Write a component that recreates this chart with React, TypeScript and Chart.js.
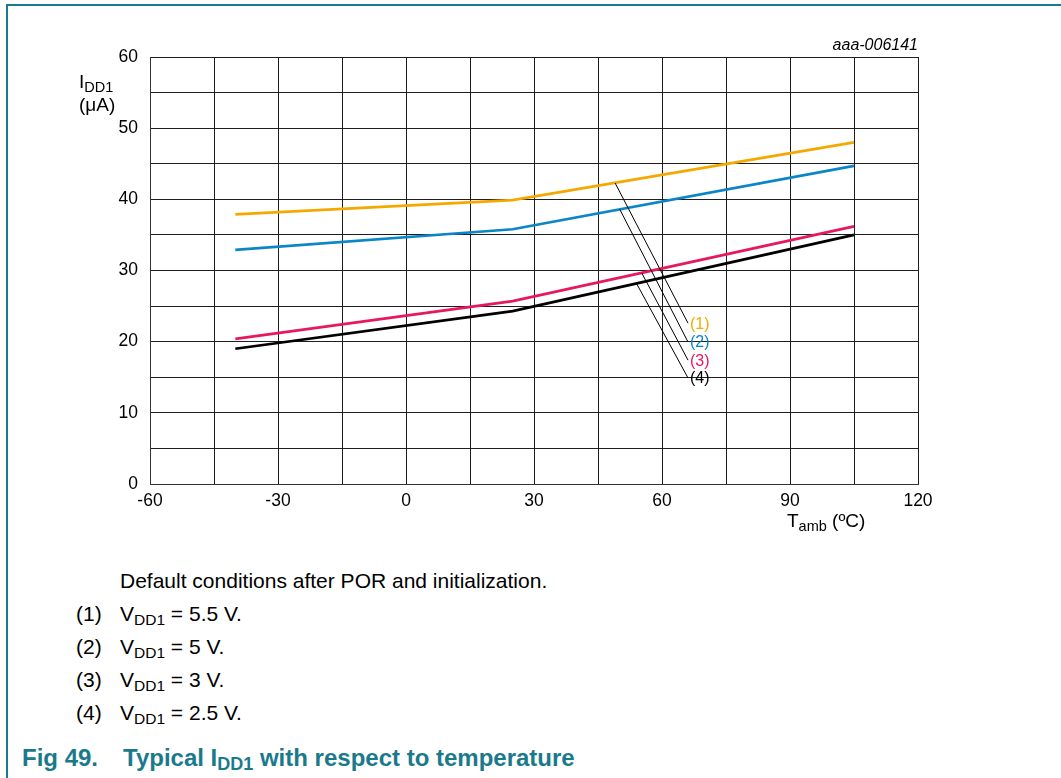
import React, { useEffect, useRef } from "react";
import { Chart, registerables } from "chart.js";
Chart.register(...registerables);

const FONT = "'Liberation Sans', Arial, Helvetica, sans-serif";

// Data
const temps = [-40, 25, 105];
const iddVdd55 = [37.9, 39.9, 48.0];
const iddVdd5 = [32.9, 35.8, 44.7];
const iddVdd3 = [20.4, 25.7, 36.2];
const iddVdd25 = [19.0, 24.3, 35.0];

const seriesLabels = ["(1)", "(2)", "(3)", "(4)"];
const seriesColors = ["#f5a900", "#0a86c8", "#e6195d", "#000000"];

// Leader lines from each curve to its label (data coordinates)
const leaderStartX = [49.0, 50.1, 55.3, 54.1];
const leaderStartY = [42.3, 38.6, 29.6, 28.1];
const leaderEndX = 66.1;
const leaderEndY = [22.6, 19.95, 17.4, 14.9];

const xMin = -60;
const xMax = 120;
const yMin = 0;
const yMax = 60;

const captionLines = ["V_DD1 = 5.5 V.", "V_DD1 = 5 V.", "V_DD1 = 3 V.", "V_DD1 = 2.5 V."];

function drawSub(ctx: CanvasRenderingContext2D, main: string, sub: string, rest: string, x: number, y: number, fs: number, sfs: number, off: number) {
  ctx.font = `${fs}px ${FONT}`;
  ctx.fillText(main, x, y);
  let cx = x + ctx.measureText(main).width;
  ctx.font = `${sfs}px ${FONT}`;
  ctx.fillText(sub, cx, y + off);
  cx += ctx.measureText(sub).width;
  ctx.font = `${fs}px ${FONT}`;
  ctx.fillText(rest, cx, y);
}

const annotPlugin = {
  id: "annot",
  afterDraw(chart: any) {
    const { ctx, scales, chartArea } = chart;
    const xs = scales.x;
    const ys = scales.y;
    ctx.save();
    ctx.textAlign = "left";
    ctx.textBaseline = "middle";
    ctx.font = `16px ${FONT}`;
    seriesLabels.forEach((lab, i) => {
      ctx.fillStyle = seriesColors[i];
      ctx.fillText(lab, xs.getPixelForValue(leaderEndX) + 2, ys.getPixelForValue(leaderEndY[i]) + 1);
    });
    ctx.fillStyle = "#000";
    ctx.textBaseline = "alphabetic";
    ctx.textAlign = "right";
    ctx.font = `italic 16px ${FONT}`;
    ctx.fillText("aaa-006141", chartArea.right, chartArea.top - 7);
    ctx.textAlign = "left";
    drawSub(ctx, "I", "DD1", "", 79, 88, 19, 14.5, 4);
    ctx.font = `19px ${FONT}`;
    ctx.fillText("(μA)", 79, 111);
    drawSub(ctx, "T", "amb", " (ºC)", 787, 527, 19, 14.5, 4);
    ctx.restore();
  },
};

function Sub({ main, sub, rest, subSize }: { main: string; sub: string; rest: string; subSize: number }) {
  return (
    <>
      {main}
      <span style={{ fontSize: subSize, position: "relative", top: 4 }}>{sub}</span>
      {rest}
    </>
  );
}

export default function App() {
  const ref = useRef<HTMLCanvasElement>(null);
  useEffect(() => {
    const canvas = ref.current;
    if (!canvas) return;
    const mk = (vals: number[], i: number) => ({
      label: seriesLabels[i],
      data: temps.map((t, k) => ({ x: t, y: vals[k] })),
      borderColor: seriesColors[i],
      backgroundColor: seriesColors[i],
      borderWidth: 2.7,
      pointRadius: 0,
      tension: 0,
      order: 2,
    });
    const leaders = leaderStartX.map((sx, i) => ({
      label: "leader" + i,
      data: [
        { x: sx, y: leaderStartY[i] },
        { x: leaderEndX, y: leaderEndY[i] },
      ],
      borderColor: "#000",
      borderWidth: 1,
      pointRadius: 0,
      order: 1,
    }));
    const chart = new Chart(canvas, {
      type: "line",
      data: {
        datasets: [mk(iddVdd55, 0), mk(iddVdd5, 1), mk(iddVdd3, 2), mk(iddVdd25, 3), ...leaders] as any,
      },
      options: {
        responsive: false,
        animation: false,
        layout: { padding: { left: 90, right: 143, top: 57, bottom: 21 } },
        plugins: { legend: { display: false }, tooltip: { enabled: false }, title: { display: false } },
        scales: {
          x: {
            type: "linear",
            min: xMin,
            max: xMax,
            afterFit: (s: any) => {
              s.height = 40;
            },
            ticks: {
              stepSize: 15,
              autoSkip: false,
              maxRotation: 0,
              padding: 7,
              color: "#000",
              font: { family: FONT, size: 17.5 },
              callback: (v: any) => (Number(v) % 30 === 0 ? String(v) : ""),
            },
            grid: { color: "#1e1e1e", lineWidth: 1, drawTicks: false },
            border: { color: "#333", width: 1 },
          },
          y: {
            type: "linear",
            min: yMin,
            max: yMax,
            afterFit: (s: any) => {
              s.width = 60;
            },
            ticks: {
              stepSize: 5,
              autoSkip: false,
              padding: 12,
              color: "#000",
              font: { family: FONT, size: 17.5 },
              callback: (v: any) => (Number(v) % 10 === 0 ? String(v) : ""),
            },
            grid: { color: "#1e1e1e", lineWidth: 1, drawTicks: false },
            border: { color: "#333", width: 1 },
          },
        },
      },
      plugins: [annotPlugin],
    });
    return () => chart.destroy();
  }, []);

  const fs = 21;
  const topFor = (baseline: number, size: number) => baseline - 0.8465 * size;
  const baselines = [620.5, 653.5, 686.5, 719.5];
  const tfs = 24;
  return (
    <div style={{ position: "absolute", left: 0, top: 0, width: 1061, height: 778, background: "#fff", overflow: "hidden", fontFamily: FONT, color: "#000" }}>
      <canvas ref={ref} width={1061} height={545} style={{ position: "absolute", left: 0, top: 0 }} />
      <div style={{ position: "absolute", left: 6, top: 4, width: 1055, height: 2, background: "#1b7b8e" }} />
      <div style={{ position: "absolute", left: 6, top: 4, width: 2, height: 774, background: "#1b7b8e" }} />
      <div style={{ position: "absolute", left: 120, top: topFor(587.5, fs), fontSize: fs, lineHeight: `${fs}px`, whiteSpace: "nowrap" }}>
        Default conditions after POR and initialization.
      </div>
      {captionLines.map((line, i) => {
        const [a, b] = line.split("_");
        const sub = b.slice(0, 3);
        const rest = b.slice(3);
        return (
          <React.Fragment key={i}>
            <div style={{ position: "absolute", left: 76, top: topFor(baselines[i], fs), fontSize: fs, lineHeight: `${fs}px`, whiteSpace: "nowrap" }}>
              {seriesLabels[i]}
            </div>
            <div style={{ position: "absolute", left: 120, top: topFor(baselines[i], fs), fontSize: fs, lineHeight: `${fs}px`, whiteSpace: "nowrap" }}>
              <Sub main={a} sub={sub} rest={rest} subSize={15.5} />
            </div>
          </React.Fragment>
        );
      })}
      <div style={{ position: "absolute", left: 22, top: topFor(766, tfs), fontSize: tfs, lineHeight: `${tfs}px`, fontWeight: 700, color: "#1a7a8c", whiteSpace: "nowrap" }}>
        Fig 49.
      </div>
      <div style={{ position: "absolute", left: 123, top: topFor(766, tfs), fontSize: tfs, lineHeight: `${tfs}px`, fontWeight: 700, color: "#1a7a8c", whiteSpace: "nowrap" }}>
        <Sub main="Typical I" sub="DD1" rest=" with respect to temperature" subSize={18} />
      </div>
    </div>
  );
}
